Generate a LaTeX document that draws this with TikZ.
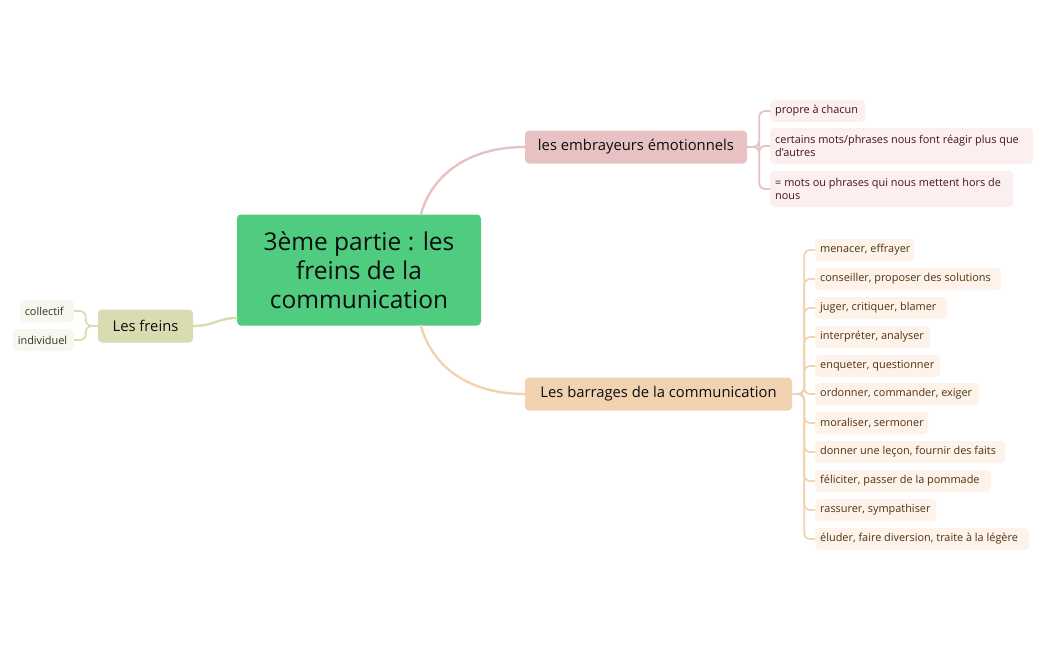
\documentclass[tikz,border=0pt]{standalone}
\usepackage{fontspec}
\setmainfont{Open Sans}
\usepackage{tikz}
\usetikzlibrary{positioning}
\usepackage{xcolor}

\definecolor{rootgreen}{HTML}{50CC80}
\definecolor{embfill}{HTML}{E8C2C2}
\definecolor{embleaf}{HTML}{FBF0EF}
\definecolor{embtext}{HTML}{42161A}
\definecolor{barfill}{HTML}{F2D3B1}
\definecolor{barleaf}{HTML}{FDF3EA}
\definecolor{bartext}{HTML}{52320F}
\definecolor{frfill}{HTML}{D9DCB0}
\definecolor{frleaf}{HTML}{F6F7EE}
\definecolor{frtext}{HTML}{34341C}

\begin{document}
\begin{tikzpicture}[x=1pt, y=-1pt,
    rootbox/.style={fill=rootgreen, rounded corners=4pt, align=center,
        minimum width=244pt, minimum height=111pt, inner sep=0pt,
        font=\fontsize{24.5}{29}\selectfont, text=black!95},
    branch/.style={rounded corners=4pt, minimum height=33pt, inner sep=0pt,
        font=\fontsize{14.8}{17}\selectfont, text=black!95},
    leaf/.style={rounded corners=4pt, anchor=west, align=flush left, inner xsep=5pt,
        inner ysep=0pt, minimum height=22pt, font=\fontsize{10.9}{13.5}\selectfont},
    embleafbox/.style={leaf, fill=embleaf, text=embtext},
    barleafbox/.style={leaf, fill=barleaf, text=bartext},
    frleafbox/.style={leaf, anchor=east, fill=frleaf, text=frtext},
    link/.style={line width=2.4pt, line cap=round},
    twig/.style={line width=1.8pt, rounded corners=6pt}]
    \useasboundingbox (0,0) rectangle (1048,650);

    % Central topic
    \node[rootbox] (root) at (359,270) {3ème partie : les\\freins de la\\communication};

    % Main branches
    \node[branch, fill=embfill, minimum width=222pt] (emb) at (636,147) {les embrayeurs émotionnels};
    \node[branch, fill=barfill, minimum width=267pt] (bar) at (658.5,394) {Les barrages de la communication};
    \node[branch, fill=frfill, minimum width=95pt] (fr) at (145.5,326) {Les freins};

    \draw[link, embfill] (root.42) .. controls (432,175) and (468,147) .. (emb.west);
    \draw[link, barfill] (root.-42) .. controls (432,366) and (468,394) .. (bar.west);
    \draw[link, frfill] (root.west |- 0,318) .. controls (218,318) and (214,326) .. (fr.east);

    % Emotional triggers
    \node[embleafbox, text width=85pt] (e1) at (770,111) {\mbox{propre à chacun}};
    \node[embleafbox, text width=253pt, minimum height=36pt] (e2) at (770,146) {\mbox{certains mots/phrases nous font réagir plus que}\\\mbox{d'autres}};
    \node[embleafbox, text width=233pt, minimum height=36pt] (e3) at (770,189) {\mbox{= mots ou phrases qui nous mettent hors de}\\\mbox{nous}};
    \draw[twig, embfill] (emb.east) -- ++(12,0) |- (e1.west);
    \draw[twig, embfill] (emb.east) -- ++(12,0) |- (e2.west);
    \draw[twig, embfill] (emb.east) -- ++(12,0) |- (e3.west);

    % Communication barriers
    \node[barleafbox, text width=89pt] (b1) at (815,250) {\mbox{menacer, effrayer}};
    \node[barleafbox, text width=176pt] (b2) at (815,279) {\mbox{conseiller, proposer des solutions}};
    \node[barleafbox, text width=122pt] (b3) at (815,308) {\mbox{juger, critiquer, blamer}};
    \node[barleafbox, text width=105pt] (b4) at (815,337) {\mbox{interpréter, analyser}};
    \node[barleafbox, text width=115pt] (b5) at (815,366) {\mbox{enqueter, questionner}};
    \node[barleafbox, text width=154pt] (b6) at (815,394) {\mbox{ordonner, commander, exiger}};
    \node[barleafbox, text width=103pt] (b7) at (815,423) {\mbox{moraliser, sermoner}};
    \node[barleafbox, text width=180pt] (b8) at (815,452) {\mbox{donner une leçon, fournir des faits}};
    \node[barleafbox, text width=166pt] (b9) at (815,481) {\mbox{féliciter, passer de la pommade}};
    \node[barleafbox, text width=111pt] (b10) at (815,510) {\mbox{rassurer, sympathiser}};
    \node[barleafbox, text width=204pt] (b11) at (815,539) {\mbox{éluder, faire diversion, traite à la légère}};
    \draw[twig, barfill] (bar.east) -- ++(12,0) |- (b1.west);
    \draw[twig, barfill] (bar.east) -- ++(12,0) |- (b2.west);
    \draw[twig, barfill] (bar.east) -- ++(12,0) |- (b3.west);
    \draw[twig, barfill] (bar.east) -- ++(12,0) |- (b4.west);
    \draw[twig, barfill] (bar.east) -- ++(12,0) |- (b5.west);
    \draw[twig, barfill] (bar.east) -- ++(12,0) |- (b6.west);
    \draw[twig, barfill] (bar.east) -- ++(12,0) |- (b7.west);
    \draw[twig, barfill] (bar.east) -- ++(12,0) |- (b8.west);
    \draw[twig, barfill] (bar.east) -- ++(12,0) |- (b9.west);
    \draw[twig, barfill] (bar.east) -- ++(12,0) |- (b10.west);
    \draw[twig, barfill] (bar.east) -- ++(12,0) |- (b11.west);

    % Brakes
    \node[frleafbox, text width=44pt] (f1) at (74,311) {\mbox{collectif}};
    \node[frleafbox, text width=51pt] (f2) at (74,340) {\mbox{individuel}};
    \draw[twig, frfill] (fr.west) -- ++(-12,0) |- (f1.east);
    \draw[twig, frfill] (fr.west) -- ++(-12,0) |- (f2.east);
\end{tikzpicture}
\end{document}
